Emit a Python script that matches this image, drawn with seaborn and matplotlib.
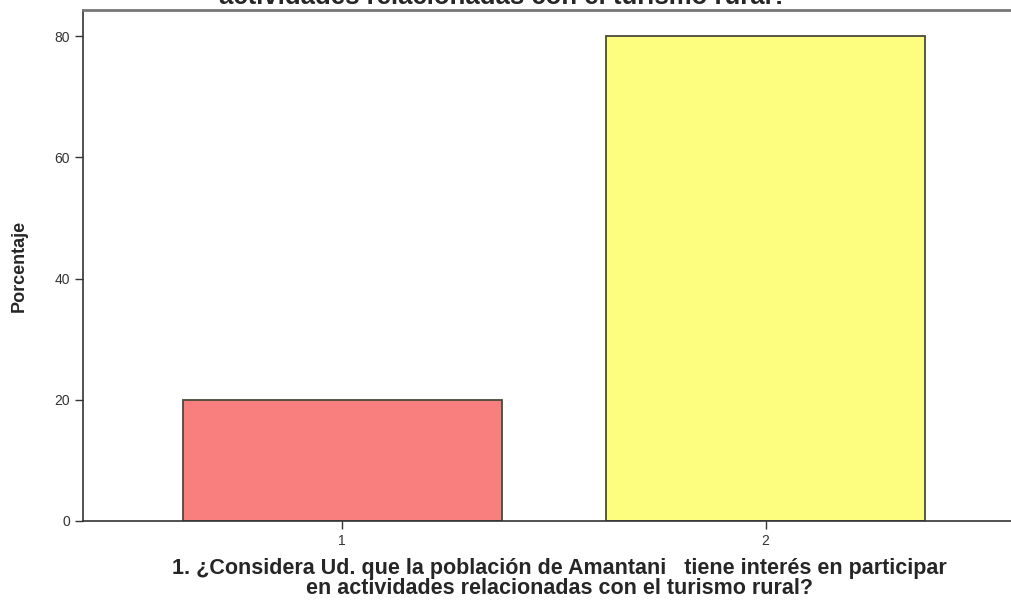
import matplotlib
matplotlib.use("Agg")
import matplotlib.pyplot as plt
import seaborn as sns
import pandas as pd

categories = ["1", "2"]
percentages = [20.0, 80.0]
bar_colors = ["#F97F7F", "#FDFD80"]

title = "actividades relacionadas con el turismo rural?"
xlabel = ("1. ¿Considera Ud. que la población de Amantani   tiene interés en participar\n"
          "en actividades relacionadas con el turismo rural?")
ylabel = "Porcentaje"

sns.set_theme(style="white")
plt.rcParams["font.family"] = ["Liberation Sans", "DejaVu Sans"]

df = pd.DataFrame({"cat": categories, "pct": percentages})

fig = plt.figure(figsize=(10.12, 6.03), dpi=100)
ax = fig.add_axes([83 / 1012, 1 - 521 / 603, 1 - 83 / 1012, (521 - 10) / 603])

sns.barplot(data=df, x="cat", y="pct", hue="cat", palette=bar_colors, saturation=1,
            width=0.753, edgecolor="#4a4a3a", linewidth=1.3, legend=False, ax=ax)

ax.set_xlim(-0.612, 1.582)
ax.set_ylim(0, 84.3)
ax.set_yticks([0, 20, 40, 60, 80])

for s in ["left", "bottom", "top"]:
    ax.spines[s].set_visible(True)
    ax.spines[s].set_color("#333333")
    ax.spines[s].set_linewidth(1.2)
ax.spines["top"].set_color("#777777")
ax.spines["top"].set_linewidth(2)
ax.spines["right"].set_visible(False)

ax.tick_params(axis="both", which="major", direction="out", length=6, width=1,
               color="#333333", labelsize=10, labelcolor="#333333", bottom=True, left=True)

ax.set_xlabel(xlabel, fontsize=15.5, fontweight="bold", linespacing=0.95)
ax.xaxis.set_label_coords(0.513, -0.072)
ax.set_ylabel(ylabel, fontsize=13, fontweight="bold")
ax.yaxis.set_label_coords(-0.06, 0.5)

# title is cut off at the top in the original export, only its lower edge shows
fig.text(0.497, 1 - 3.5 / 603, title, ha="center", va="baseline",
         fontsize=18.5, fontweight="bold")

fig.savefig("out.png", dpi=100)
